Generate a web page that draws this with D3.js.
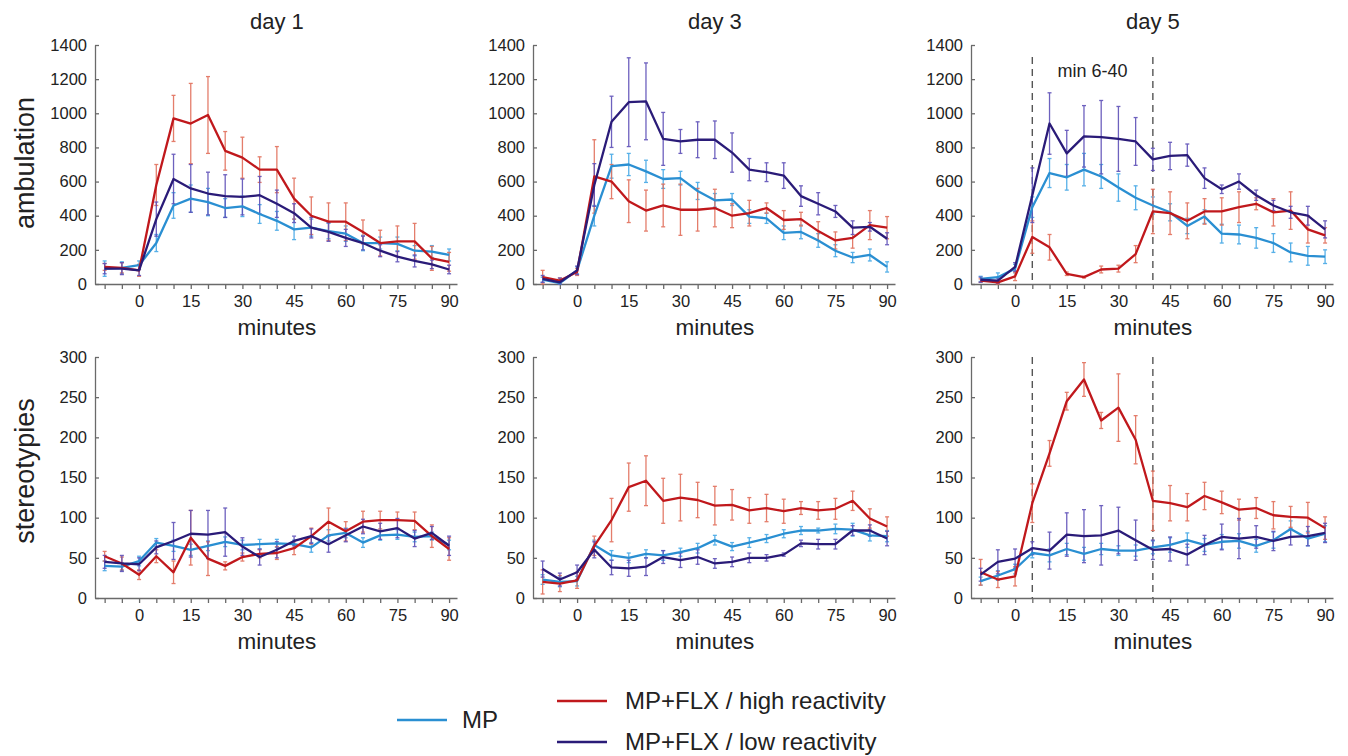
<!DOCTYPE html>
<html>
<head>
<meta charset="utf-8">
<script src="https://cdn.jsdelivr.net/npm/d3@7"></script>
<style>
  body { margin: 0; background: #fff; }
  svg { font-family: "Liberation Sans", Arial, sans-serif; }
</style>
</head>
<body>
<div class="vis"></div>
<script>
// time points (minutes)
const minutes = [-10, -5, 0, 5, 10, 15, 20, 25, 30, 35, 40, 45, 50, 55, 60, 65, 70, 75, 80, 85, 90];
const xTickLabels = [0, 15, 30, 45, 60, 75, 90];
const days = ['day 1', 'day 3', 'day 5'];
const measures = ['ambulation', 'stereotypies'];
const ambTicks = [0, 200, 400, 600, 800, 1000, 1200, 1400];
const sterTicks = [0, 50, 100, 150, 200, 250, 300];
const seriesNames = ['MP', 'MP+FLX / high reactivity', 'MP+FLX / low reactivity'];

// ambulation day 1
const ambD1MP = [90, 95, 110, 240, 460, 500, 480, 445, 455, 410, 370, 320, 330, 310, 295, 240, 240, 235, 195, 190, 170];
const ambD1MPErr = [45, 35, 25, 50, 75, 80, 80, 55, 60, 55, 55, 60, 50, 45, 45, 45, 35, 40, 30, 35, 35];
const ambD1High = [100, 95, 80, 580, 970, 940, 990, 780, 740, 670, 670, 500, 400, 365, 365, 305, 240, 250, 250, 150, 130];
const ambD1HighErr = [20, 30, 35, 120, 135, 235, 225, 113, 120, 75, 135, 120, 110, 110, 110, 70, 75, 90, 105, 70, 55];
const ambD1Low = [90, 90, 80, 380, 615, 560, 530, 515, 510, 520, 470, 415, 330, 305, 270, 240, 195, 160, 135, 115, 85];
const ambD1LowErr = [30, 35, 30, 100, 145, 140, 125, 125, 105, 110, 80, 55, 60, 55, 50, 40, 35, 30, 35, 25, 25];

// ambulation day 3
const ambD3MP = [25, 5, 80, 400, 690, 700, 660, 615, 620, 545, 490, 495, 395, 385, 300, 305, 255, 195, 155, 170, 100];
const ambD3MPErr = [15, 10, 20, 60, 70, 65, 65, 55, 40, 50, 40, 35, 40, 30, 40, 40, 40, 35, 30, 35, 30];
const ambD3High = [40, 20, 70, 630, 600, 485, 430, 460, 435, 435, 445, 400, 415, 445, 375, 380, 310, 255, 270, 345, 330];
const ambD3HighErr = [40, 15, 20, 215, 100, 125, 120, 125, 150, 125, 110, 70, 75, 30, 55, 40, 55, 50, 60, 85, 65];
const ambD3Low = [30, 10, 80, 580, 950, 1065, 1070, 850, 835, 845, 845, 770, 670, 655, 635, 515, 470, 425, 330, 335, 265];
const ambD3LowErr = [20, 25, 25, 125, 150, 260, 225, 155, 70, 105, 110, 115, 65, 55, 75, 60, 65, 35, 40, 25, 35];

// ambulation day 5
const ambD5MP = [30, 40, 90, 450, 650, 625, 670, 630, 565, 505, 460, 420, 340, 395, 295, 290, 270, 240, 185, 165, 160];
const ambD5MPErr = [15, 25, 25, 60, 85, 75, 95, 70, 80, 70, 50, 50, 45, 40, 55, 55, 60, 55, 55, 55, 40];
const ambD5High = [20, 10, 45, 275, 215, 60, 40, 85, 90, 175, 425, 415, 370, 425, 425, 450, 470, 420, 430, 320, 285];
const ambD5HighErr = [10, 10, 25, 95, 75, 10, 5, 20, 20, 50, 130, 125, 105, 75, 80, 90, 35, 80, 110, 80, 45];
const ambD5Low = [25, 20, 100, 520, 940, 765, 865, 860, 850, 835, 730, 750, 755, 620, 555, 600, 520, 460, 420, 400, 320];
const ambD5LowErr = [15, 15, 25, 160, 180, 135, 180, 215, 190, 140, 65, 80, 65, 60, 25, 45, 30, 30, 35, 55, 50];

// stereotypies day 1
const sterD1MP = [40, 39, 46, 69, 65, 60, 65, 70, 66, 67, 68, 67, 63, 78, 81, 69, 78, 79, 76, 77, 66];
const sterD1MPErr = [6, 5, 6, 5, 7, 7, 6, 6, 6, 6, 5, 5, 6, 7, 6, 6, 6, 6, 6, 5, 6];
const sterD1High = [52, 43, 29, 52, 32, 75, 49, 40, 51, 55, 56, 62, 77, 95, 83, 95, 97, 97, 96, 77, 61];
const sterD1HighErr = [6, 8, 6, 8, 14, 34, 21, 5, 5, 5, 8, 8, 10, 17, 12, 13, 11, 10, 11, 14, 14];
const sterD1Low = [45, 43, 42, 63, 71, 80, 79, 82, 64, 51, 60, 71, 77, 67, 78, 89, 83, 87, 74, 81, 65];
const sterD1LowErr = [8, 10, 8, 8, 23, 29, 30, 30, 11, 10, 10, 6, 9, 10, 8, 9, 10, 12, 10, 8, 12];

// stereotypies day 3
const sterD3MP = [23, 20, 21, 66, 53, 50, 55, 53, 57, 62, 72, 64, 69, 74, 80, 84, 84, 86, 85, 78, 77];
const sterD3MPErr = [6, 6, 6, 6, 6, 6, 5, 6, 5, 6, 6, 5, 6, 5, 5, 5, 3, 6, 8, 7, 7];
const sterD3High = [20, 18, 22, 65, 97, 138, 146, 121, 125, 122, 115, 116, 109, 112, 108, 112, 109, 111, 121, 99, 89];
const sterD3HighErr = [15, 10, 10, 12, 27, 30, 31, 28, 29, 22, 24, 19, 16, 17, 15, 8, 11, 13, 12, 12, 12];
const sterD3Low = [36, 23, 32, 60, 38, 37, 39, 51, 47, 51, 43, 45, 50, 50, 54, 68, 67, 67, 84, 84, 74];
const sterD3LowErr = [10, 8, 9, 10, 9, 10, 11, 8, 9, 9, 6, 6, 6, 4, 2, 4, 6, 6, 6, 7, 9];

// stereotypies day 5
const sterD5MP = [21, 28, 36, 56, 53, 61, 55, 61, 59, 59, 63, 66, 72, 66, 70, 71, 65, 72, 86, 74, 80];
const sterD5MPErr = [5, 6, 6, 6, 8, 7, 8, 7, 6, 7, 8, 9, 9, 8, 9, 9, 8, 10, 10, 9, 10];
const sterD5High = [32, 23, 27, 118, 180, 245, 272, 221, 237, 197, 121, 118, 113, 127, 119, 110, 112, 103, 101, 100, 87];
const sterD5HighErr = [16, 10, 12, 24, 16, 11, 21, 10, 42, 30, 37, 22, 17, 17, 14, 13, 13, 17, 13, 19, 14];
const sterD5Low = [29, 45, 49, 62, 59, 79, 77, 78, 84, 72, 60, 61, 54, 66, 76, 74, 76, 71, 76, 77, 81];
const sterD5LowErr = [8, 15, 12, 8, 23, 27, 33, 37, 29, 25, 12, 15, 13, 12, 16, 25, 14, 12, 10, 12, 12];

// day 5 window
const windowMinutes = [5, 40];
const windowLabel = 'min 6-40';

const lineColors = ['#2a8fd2', '#c0181c', '#2a1b78'];
const errColors = ['#45a8e6', '#e2705c', '#5e50b8'];

const panels = [
  {row: 0, col: 0, series: [[ambD1MP, ambD1MPErr], [ambD1High, ambD1HighErr], [ambD1Low, ambD1LowErr]]},
  {row: 0, col: 1, series: [[ambD3MP, ambD3MPErr], [ambD3High, ambD3HighErr], [ambD3Low, ambD3LowErr]]},
  {row: 0, col: 2, series: [[ambD5MP, ambD5MPErr], [ambD5High, ambD5HighErr], [ambD5Low, ambD5LowErr]]},
  {row: 1, col: 0, series: [[sterD1MP, sterD1MPErr], [sterD1High, sterD1HighErr], [sterD1Low, sterD1LowErr]]},
  {row: 1, col: 1, series: [[sterD3MP, sterD3MPErr], [sterD3High, sterD3HighErr], [sterD3Low, sterD3LowErr]]},
  {row: 1, col: 2, series: [[sterD5MP, sterD5MPErr], [sterD5High, sterD5HighErr], [sterD5Low, sterD5LowErr]]}
];

const W = 1348, H = 756;
const colLeft = [95, 533, 971];
const plotW = 362;
const rowRange = [[284, 45], [598, 357]];
const rowTicks = [ambTicks, sterTicks];
const rowMax = [1400, 300];
const labelY = [163, 471];

const svg = d3.select('.vis').append('svg')
    .attr('width', W)
    .attr('height', H);

panels.forEach(p => {
  const x = d3.scaleLinear().domain([-12.8, 92.3]).range([colLeft[p.col], colLeft[p.col] + plotW]);
  const y = d3.scaleLinear().domain([0, rowMax[p.row]]).range(rowRange[p.row]);
  const g = svg.append('g');

  // axes
  const xAxis = g.append('g')
      .attr('transform', 'translate(0,' + y(0) + ')')
      .call(d3.axisBottom(x)
        .tickValues(minutes)
        .tickSizeInner(5).tickSizeOuter(0).tickPadding(6)
        .tickFormat(d => xTickLabels.includes(d) ? d : ''));
  const yAxis = g.append('g')
      .attr('transform', 'translate(' + x.range()[0] + ',0)')
      .call(d3.axisLeft(y)
        .tickValues(rowTicks[p.row])
        .tickFormat(d3.format('d'))
        .tickSizeInner(-4).tickSizeOuter(0).tickPadding(8));
  [xAxis, yAxis].forEach(a => {
    a.selectAll('path, line').attr('stroke', '#6a6a6a').attr('stroke-width', 1.3);
    a.selectAll('text').attr('fill', '#222').style('font-size', '16.5px');
  });

  g.append('text')
      .attr('x', x(40)).attr('y', y(0) + 51)
      .attr('text-anchor', 'middle')
      .attr('fill', '#222')
      .style('font-size', '22.5px')
      .text('minutes');

  if (p.row === 0) {
    g.append('text')
        .attr('x', x(40)).attr('y', 29)
        .attr('text-anchor', 'middle')
        .attr('fill', '#222')
        .style('font-size', '22px')
        .text(days[p.col]);
  }
  if (p.col === 0) {
    g.append('text')
        .attr('transform', 'translate(34,' + labelY[p.row] + ') rotate(-90)')
        .attr('text-anchor', 'middle')
        .attr('fill', '#222')
        .style('font-size', '27px')
        .text(measures[p.row]);
  }

  // day 5 window markers
  if (p.col === 2) {
    const topVal = p.row === 0 ? 1330 : 300;
    g.selectAll('.win')
      .data(windowMinutes)
      .enter().append('line')
        .attr('x1', d => x(d)).attr('x2', d => x(d))
        .attr('y1', y(topVal)).attr('y2', y(0))
        .attr('stroke', '#555')
        .attr('stroke-width', 1.4)
        .attr('stroke-dasharray', '7,5');
    if (p.row === 0) {
      g.append('text')
          .attr('x', x(22.5)).attr('y', y(1210))
          .attr('text-anchor', 'middle')
          .attr('fill', '#222')
          .style('font-size', '18px')
          .text(windowLabel);
    }
  }

  // error bars
  const drawOrder = [0, 1, 2];
  drawOrder.forEach(si => {
    const [vals, errs] = p.series[si];
    const pts = minutes.map((m, i) => ({m: m, v: vals[i], e: errs[i]}));
    const eg = g.append('g')
        .attr('stroke', errColors[si])
        .attr('stroke-width', 1.3)
        .attr('opacity', 0.9);
    eg.selectAll('.bar')
      .data(pts).enter().append('line')
        .attr('x1', d => x(d.m)).attr('x2', d => x(d.m))
        .attr('y1', d => y(Math.max(0, d.v - d.e)))
        .attr('y2', d => y(d.v + d.e));
    eg.selectAll('.capTop')
      .data(pts).enter().append('line')
        .attr('x1', d => x(d.m) - 2).attr('x2', d => x(d.m) + 2)
        .attr('y1', d => y(d.v + d.e)).attr('y2', d => y(d.v + d.e));
    eg.selectAll('.capBot')
      .data(pts).enter().append('line')
        .attr('x1', d => x(d.m) - 2).attr('x2', d => x(d.m) + 2)
        .attr('y1', d => y(Math.max(0, d.v - d.e))).attr('y2', d => y(Math.max(0, d.v - d.e)));
  });

  // lines
  drawOrder.forEach(si => {
    const vals = p.series[si][0];
    const line = d3.line()
        .x((d, i) => x(minutes[i]))
        .y(d => y(d));
    g.append('path')
        .datum(vals)
        .attr('fill', 'none')
        .attr('stroke', lineColors[si])
        .attr('stroke-width', 2.3)
        .attr('stroke-linejoin', 'round')
        .attr('d', line);
  });
});

// legend
const legend = [
  {i: 0, x: 397, y: 720},
  {i: 1, x: 557, y: 701},
  {i: 2, x: 557, y: 742}
];
const lg = svg.append('g');
lg.selectAll('line')
  .data(legend).enter().append('line')
    .attr('x1', d => d.x).attr('x2', d => d.x + 50)
    .attr('y1', d => d.y).attr('y2', d => d.y)
    .attr('stroke', d => lineColors[d.i])
    .attr('stroke-width', 2.3);
lg.selectAll('text')
  .data(legend).enter().append('text')
    .attr('x', d => d.i === 0 ? d.x + 65 : d.x + 68)
    .attr('y', d => d.y + 8)
    .attr('fill', '#222')
    .style('font-size', '24px')
    .text(d => seriesNames[d.i]);
</script>
</body>
</html>
